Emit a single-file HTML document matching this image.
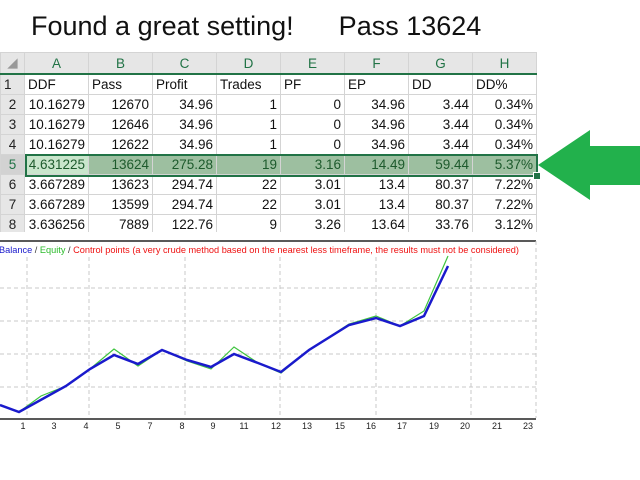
<!DOCTYPE html>
<html><head><style>
body{margin:0;width:640px;height:480px;background:#fff;position:relative;overflow:hidden;font-family:"Liberation Sans",sans-serif}
.t{position:absolute;left:31px;top:11px;font-size:27px;color:#111;white-space:pre}
table{position:absolute;left:0;top:52px;border-collapse:collapse;font-size:13.5px;table-layout:fixed}
td{height:19px;border:1px solid #d4d4d4;padding:0 3px;text-align:right;white-space:nowrap;overflow:hidden;color:#111}
tr.h td{background:#e6e6e6;text-align:center;color:#217346;border-bottom:2px solid #217346;height:20px}
td.r{background:#e6e6e6;text-align:center;color:#222;width:17px}
tr.l td{text-align:left}
tr.s td{background:#9dbfa0;color:#1d5a2c}
tr.s td.a{background:#c9e6cc}
tr.s td.r{background:#d2d2d2;color:#217346}
</style></head><body>
<div class="t">Found a great setting!      Pass 13624</div>
<table>
<colgroup><col style="width:24px"><col style="width:64px"><col style="width:64px"><col style="width:64px"><col style="width:64px"><col style="width:64px"><col style="width:64px"><col style="width:64px"><col style="width:64px"></colgroup>
<tr class="h"><td class="r" style="color:#999">◢</td><td>A</td><td>B</td><td>C</td><td>D</td><td>E</td><td>F</td><td>G</td><td>H</td></tr>
<tr class="l"><td class="r">1</td><td>DDF</td><td>Pass</td><td>Profit</td><td>Trades</td><td>PF</td><td>EP</td><td>DD</td><td>DD%</td></tr>
<tr><td class="r">2</td><td>10.16279</td><td>12670</td><td>34.96</td><td>1</td><td>0</td><td>34.96</td><td>3.44</td><td>0.34%</td></tr>
<tr><td class="r">3</td><td>10.16279</td><td>12646</td><td>34.96</td><td>1</td><td>0</td><td>34.96</td><td>3.44</td><td>0.34%</td></tr>
<tr><td class="r">4</td><td>10.16279</td><td>12622</td><td>34.96</td><td>1</td><td>0</td><td>34.96</td><td>3.44</td><td>0.34%</td></tr>
<tr class="s"><td class="r">5</td><td class="a">4.631225</td><td>13624</td><td>275.28</td><td>19</td><td>3.16</td><td>14.49</td><td>59.44</td><td>5.37%</td></tr>
<tr><td class="r">6</td><td>3.667289</td><td>13623</td><td>294.74</td><td>22</td><td>3.01</td><td>13.4</td><td>80.37</td><td>7.22%</td></tr>
<tr><td class="r">7</td><td>3.667289</td><td>13599</td><td>294.74</td><td>22</td><td>3.01</td><td>13.4</td><td>80.37</td><td>7.22%</td></tr>
<tr><td class="r">8</td><td>3.636256</td><td>7889</td><td>122.76</td><td>9</td><td>3.26</td><td>13.64</td><td>33.76</td><td>3.12%</td></tr>
</table>
<div style="position:absolute;left:25px;top:154px;width:509px;height:19px;border:2px solid #217346"></div>
<div style="position:absolute;left:533px;top:172px;width:6px;height:6px;background:#217346;border:1px solid #fff"></div>
<div style="position:absolute;left:0;top:232px;width:545px;height:9px;background:#fff"></div>
<svg style="position:absolute;left:0;top:0" width="640" height="480">
<polygon points="538,165 590,130 590,146 640,146 640,185 590,185 590,200" fill="#22b14c"/>
<line x1="0" y1="241" x2="536" y2="241" stroke="#222" stroke-width="1.5"/>
<g stroke="#c8c8c8" stroke-dasharray="4,3" stroke-width="1">
<line x1="0" y1="288" x2="536" y2="288"/><line x1="0" y1="321" x2="536" y2="321"/><line x1="0" y1="354" x2="536" y2="354"/><line x1="0" y1="387" x2="536" y2="387"/>
<line x1="89" y1="257" x2="89" y2="418"/><line x1="185" y1="257" x2="185" y2="418"/><line x1="280" y1="257" x2="280" y2="418"/><line x1="376" y1="257" x2="376" y2="418"/><line x1="471" y1="257" x2="471" y2="418"/><line x1="536" y1="241" x2="536" y2="418"/>
<line x1="27" y1="257" x2="27" y2="418"/>
</g>
<line x1="0" y1="419" x2="536" y2="419" stroke="#222" stroke-width="1.5"/>
<polyline fill="none" stroke="#3ec43e" stroke-width="1.2" points="0,405 19,412 41,396 66,386 90,369 114,349 138,366 162,350 187,361 211,369 234,347 258,363 281,373 309,350 349,324 376,316 400,326 424,311 448,256"/>
<polyline fill="none" stroke="#1a1acc" stroke-width="2.5" points="0,405 19,412 66,386 90,369 114,355 138,364 162,350 187,360 211,367 234,354 258,363 281,372 309,350 349,325 376,318 400,326 424,316 448,266"/>
<g font-size="9" fill="#222" text-anchor="middle" font-family="Liberation Sans,sans-serif">
<text x="23" y="429">1</text><text x="54" y="429">3</text><text x="86" y="429">4</text><text x="118" y="429">5</text><text x="150" y="429">7</text><text x="182" y="429">8</text><text x="213" y="429">9</text><text x="244" y="429">11</text><text x="276" y="429">12</text><text x="307" y="429">13</text><text x="340" y="429">15</text><text x="371" y="429">16</text><text x="402" y="429">17</text><text x="434" y="429">19</text><text x="465" y="429">20</text><text x="497" y="429">21</text><text x="528" y="429">23</text>
</g>
<text x="-1" y="253" font-size="9.2" font-family="Liberation Sans,sans-serif"><tspan fill="#1a1acc">Balance</tspan><tspan fill="#333"> / </tspan><tspan fill="#2aba2a">Equity</tspan><tspan fill="#333"> / </tspan><tspan fill="#ee1111">Control points (a very crude method based on the nearest less timeframe, the results must not be considered)</tspan></text>
</svg>
</body></html>
